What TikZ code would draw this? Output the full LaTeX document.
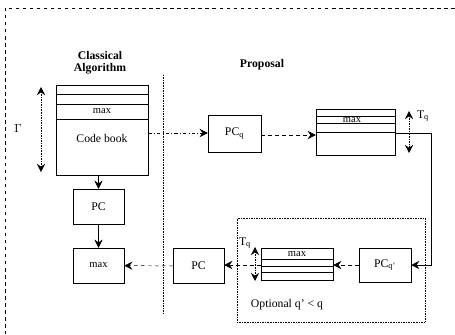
\documentclass[tikz,border=0pt]{standalone}
\usepackage{fontspec}
\setmainfont{Liberation Serif}
\usetikzlibrary{arrows.meta}
\tikzset{
	blk/.style={draw, thin, inner sep=0pt, minimum width=1.53cm, minimum height=1.05cm},
	stackbox/.style={draw, thin, inner sep=0pt},
	flow/.style={thin, dashed},
	spanarrow/.style={thin, densely dotted, <->},
	heading/.style={font=\bfseries}
}

\begin{document}
\begin{tikzpicture}[x=0.03cm, y=-0.03cm, >={Stealth[length=7pt,width=7pt,inset=2.5pt]}]
			\useasboundingbox (0,0) rectangle (455,334);
			% frame and divider
			\coordinate (f1) at (455,8);
			\coordinate (f2) at (5,8);
			\coordinate (f3) at (5,334);
			\draw[dashed, thin] (f1) -- (f2) -- (f3);
			\coordinate (d1) at (163,75);
			\coordinate (d2) at (163,313);
			\draw[densely dotted, thin] (d1) -- (d2);
			\node	(opt) at (331,270) [draw, densely dotted, thin, minimum width=5.64cm, minimum height=3.12cm] {};
			% titles
			\node	[heading] (cls) at (100,55) {Classical};
			\node	[heading] (alg) at (100,69) {Algorithm};
			\node	[heading] (prp) at (262,65) {Proposal};
			\node	(optl) at (287,305) {Optional q' < q};
			% classical side
			\node	(cb) at (102,130) [stackbox, minimum width=2.76cm, minimum height=2.7cm] {};
			\draw (cb.west |- 0,94) -- (cb.east |- 0,94);
			\draw (cb.west |- 0,104) -- (cb.east |- 0,104);
			\draw (cb.west |- 0,119) -- (cb.east |- 0,119);
			\node	(cbmax) at (102,111.5) {\small max};
			\node	(cbtxt) at (102,138) {Code book};
			\node	(pc1) at (98.5,206.5) [blk] {PC};
			\node	(mx) at (98.5,265.5) [blk] {\small max};
			\coordinate (g1) at (41,87);
			\coordinate (g2) at (41,172);
			\draw[spanarrow] (g1) -- (g2);
			\node	(gam) at (18,128) {$\Gamma$};
			% proposal side
			\node	(pcq) at (234.5,133.5) [blk, minimum width=1.59cm, minimum height=1.11cm] {PC\textsubscript{q}};
			\node	(stt) at (355.5,132) [stackbox, minimum width=2.37cm, minimum height=1.38cm] {};
			\draw (stt.west |- 0,116) -- (stt.east |- 0,116);
			\draw (stt.west |- 0,123) -- (stt.east |- 0,123);
			\draw (stt.west |- 0,132) -- (stt.east |- 0,132);
			\node	(sttmax) at (352,120) {\small max};
			\coordinate (t1) at (409,111);
			\coordinate (t2) at (409,153);
			\draw[spanarrow] (t1) -- (t2);
			\node	(tq1) at (423,116) {T\textsubscript{q}};
			\node	(pcqp) at (385,265) [blk, minimum width=1.56cm, minimum height=1.02cm] {PC\textsubscript{q'}};
			\node	(stb) at (297,264) [stackbox, minimum width=2.16cm, minimum height=0.96cm] {};
			\draw (stb.west |- 0,259) -- (stb.east |- 0,259);
			\draw (stb.west |- 0,266) -- (stb.east |- 0,266);
			\draw (stb.west |- 0,272) -- (stb.east |- 0,272);
			\node	(stbmax) at (297,254) {\small max};
			\coordinate (b1) at (255,247);
			\coordinate (b2) at (255,281);
			\draw[spanarrow, semithick] (b1) -- (b2);
			\node	(tq2) at (245,243) {T\textsubscript{q}};
			\node	(pc2) at (198.5,266) [blk] {PC};
			\coordinate (c1) at (431,133);
			\coordinate (c2) at (431,265);
			\draw 
			(pc1.north |- cb.south) edge[->] (pc1.north)
			(pc1) edge[->] (mx)
			(cb.east |- 0,133) edge[->, dash dot] (pcq.west |- 0,133)
			(pcq.east |- 0,135) edge[->, flow] (stt.west |- 0,135)
			(pc2) edge[->, flow] (mx)
			(stb.west |- 0,265) edge[->, flow] (pc2.east |- 0,265)
			(pcqp.west |- 0,265) edge[->, flow] (stb.east |- 0,265)
			;
			\draw[->, semithick] (stt.east |- c1) -- (c1) -- (c2) -- (pcqp.east |- c2);
			\end{tikzpicture}
\end{document}
